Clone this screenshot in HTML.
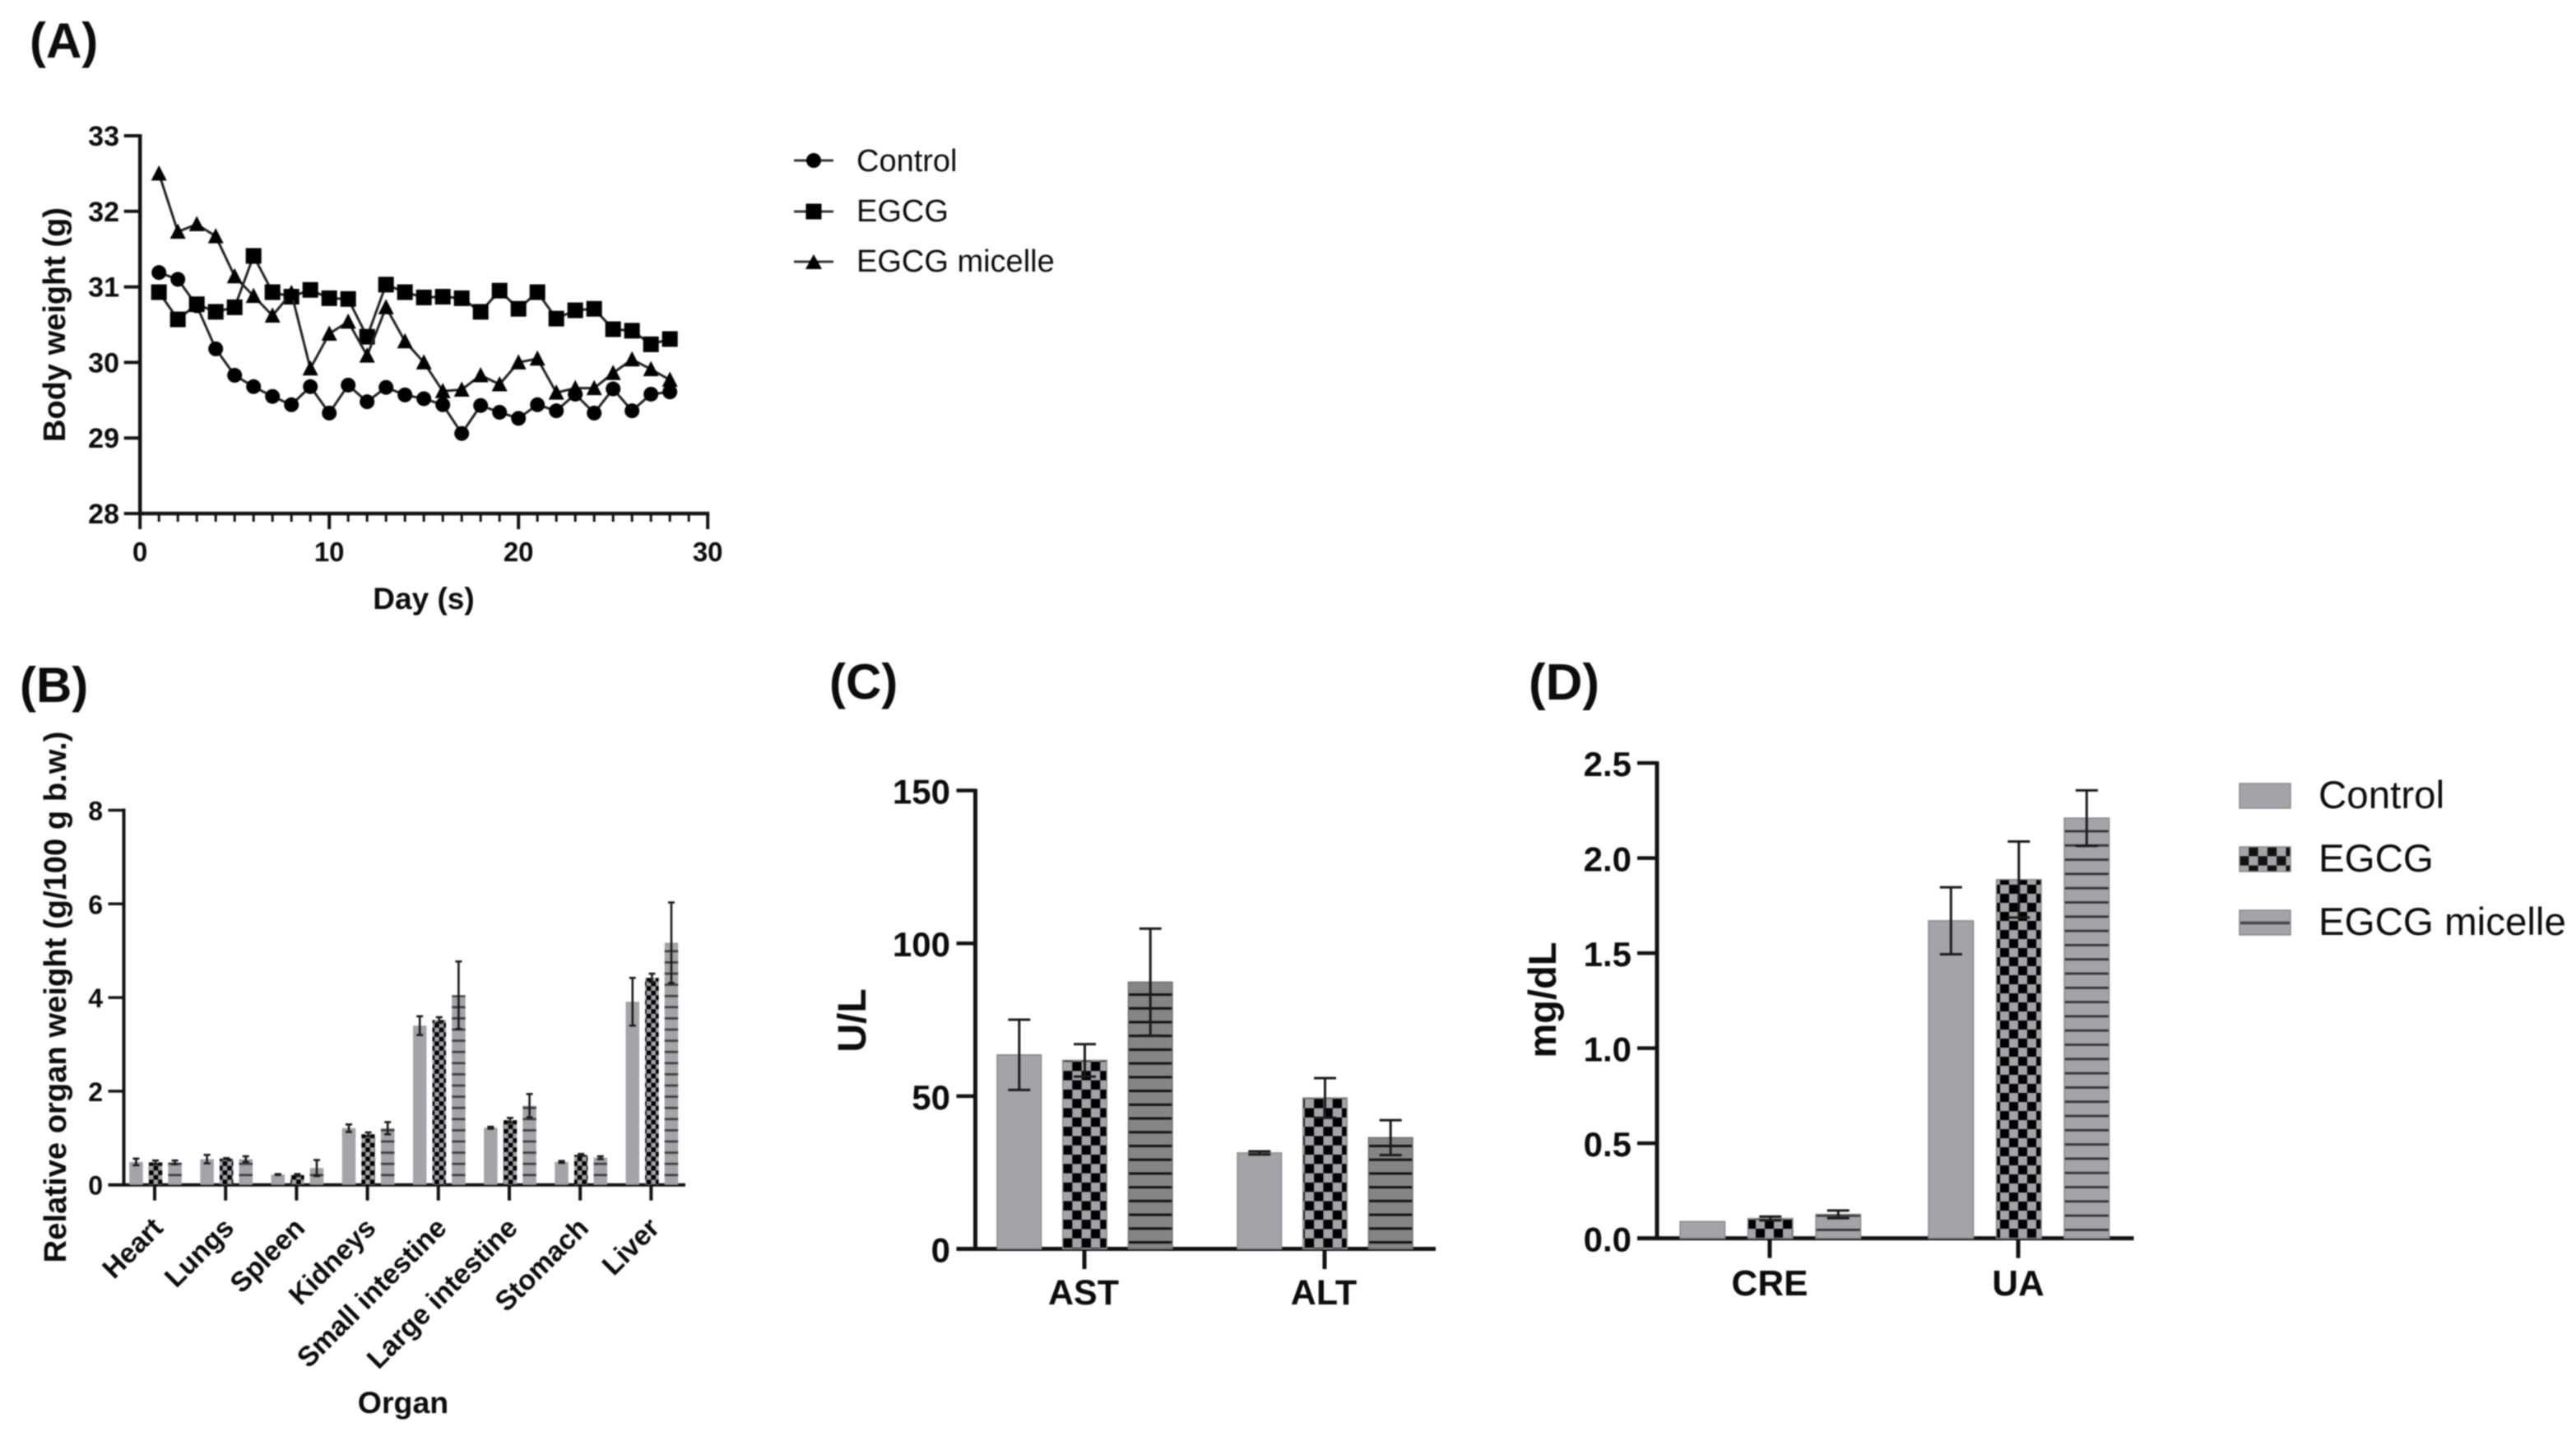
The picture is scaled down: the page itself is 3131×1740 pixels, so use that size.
<!DOCTYPE html>
<html lang="en">
<head>
<meta charset="utf-8">
<title>Body weight, organ weight and serum biochemistry</title>
<style>
html,body{margin:0;padding:0;background:#fff;width:3131px;height:1740px;overflow:hidden}
svg{display:block;filter:blur(0.8px)}
text{font-family:"Liberation Sans",Arial,sans-serif;fill:#0c0c0c}
.b{font-weight:bold}
</style>
</head>
<body>
<svg id="figure" xmlns="http://www.w3.org/2000/svg" width="3131" height="1740" viewBox="0 0 3131 1740">
<defs>
<pattern id="checkB" patternUnits="userSpaceOnUse" x="181" y="1439" width="11.2" height="11.2"><rect width="11.2" height="11.2" fill="#a3a3a8"/><rect x="5.6" width="5.6" height="5.6" fill="#000"/><rect y="5.6" width="5.6" height="5.6" fill="#000"/></pattern>
<pattern id="linesB" patternUnits="userSpaceOnUse" x="0" y="1426.5" width="20" height="13.6"><rect width="20" height="13.6" fill="#a3a3a8"/><rect width="20" height="2.6" fill="#3a3a3a"/></pattern>
<pattern id="checkC" patternUnits="userSpaceOnUse" x="1292" y="1290" width="22.6" height="22.6"><rect width="22.6" height="22.6" fill="#a3a3a8"/><rect x="11.3" width="11.3" height="11.3" fill="#000"/><rect y="11.3" width="11.3" height="11.3" fill="#000"/></pattern>
<pattern id="linesC" patternUnits="userSpaceOnUse" x="0" y="1508" width="20" height="16.72"><rect width="20" height="16.72" fill="#858585"/><rect width="20" height="3" fill="#111"/></pattern>
<pattern id="checkD" patternUnits="userSpaceOnUse" x="2123" y="1493" width="22" height="22"><rect width="22" height="22" fill="#a3a3a8"/><rect x="11" width="11" height="11" fill="#000"/><rect y="11" width="11" height="11" fill="#000"/></pattern>
<pattern id="linesD" patternUnits="userSpaceOnUse" x="0" y="1493" width="20" height="17.3"><rect width="20" height="17.3" fill="#a3a3a8"/><rect width="20" height="2.8" fill="#333"/></pattern>
<pattern id="checkL" patternUnits="userSpaceOnUse" x="2722" y="1029" width="22.6" height="22.6"><rect width="22.6" height="22.6" fill="#a3a3a8"/><rect x="11.3" width="11.3" height="11.3" fill="#111"/><rect y="11.3" width="11.3" height="11.3" fill="#111"/></pattern>
</defs>

<text class="b" x="36" y="70" font-size="60">(A)</text>
<text class="b" x="24" y="853" font-size="60">(B)</text>
<text class="b" x="1008" y="849" font-size="60">(C)</text>
<text class="b" x="1858" y="850" font-size="62">(D)</text>

<text class="b" x="515" y="740" font-size="37" text-anchor="middle">Day (s)</text>
<text class="b" transform="translate(79 394.5) rotate(-90)" font-size="38" text-anchor="middle">Body weight (g)</text>
<text class="b" x="490" y="1717" font-size="37.5" text-anchor="middle">Organ</text>
<text class="b" transform="translate(80 1211.5) rotate(-90)" font-size="38.2" text-anchor="middle">Relative organ weight (g/100 g b.w.)</text>
<text class="b" transform="translate(1052 1240) rotate(-90)" font-size="48" text-anchor="middle">U/L</text>
<text class="b" transform="translate(1891 1215) rotate(-90)" font-size="47" text-anchor="middle">mg/dL</text>

<g>
  <g>
    <line x1="965" x2="1013" y1="195" y2="195" stroke="#333" stroke-width="3"/>
    <circle cx="989" cy="195" r="9" fill="#000"/>
    <text x="1041" y="208" font-size="38">Control</text>
  </g>
  <g>
    <line x1="965" x2="1013" y1="257" y2="257" stroke="#333" stroke-width="3"/>
    <rect x="979.5" y="247.5" width="19" height="19" fill="#000"/>
    <text x="1041" y="269" font-size="38">EGCG</text>
  </g>
  <g>
    <line x1="965" x2="1013" y1="318" y2="318" stroke="#333" stroke-width="3"/>
    <polygon points="989,309 999,327 979,327" fill="#000"/>
    <text x="1041" y="330" font-size="38">EGCG micelle</text>
  </g>
</g>

<g>
  <g>
    <rect x="2722" y="952" width="62" height="30" fill="#a3a3a8" stroke="#8a8a8a" stroke-width="1.5"/>
    <text x="2818" y="982" font-size="47.5">Control</text>
  </g>
  <g>
    <rect x="2722" y="1029" width="62" height="30" fill="url(#checkL)" stroke="#8a8a8a" stroke-width="1.5"/>
    <text x="2818" y="1059" font-size="47.5">EGCG</text>
  </g>
  <g>
    <rect x="2722" y="1106" width="62" height="30" fill="#a3a3a8" stroke="#8a8a8a" stroke-width="1.5"/>
    <line x1="2723" x2="2783" y1="1121.5" y2="1121.5" stroke="#444" stroke-width="3.5"/>
    <text x="2818" y="1136" font-size="47.5">EGCG micelle</text>
  </g>
</g>
</svg>

<script>
/* ---------- Panel A data ---------- */
const days = [1,2,3,4,5,6,7,8,9,10,11,12,13,14,15,16,17,18,19,20,21,22,23,24,25,26,27,28];
const controlWeight = [31.19,31.10,30.75,30.18,29.83,29.68,29.55,29.44,29.68,29.33,29.70,29.48,29.67,29.57,29.52,29.44,29.06,29.43,29.34,29.26,29.44,29.36,29.58,29.33,29.65,29.36,29.58,29.61];
const egcgWeight = [30.93,30.57,30.77,30.67,30.73,31.41,30.93,30.87,30.96,30.85,30.84,30.34,31.03,30.93,30.86,30.87,30.85,30.67,30.95,30.71,30.93,30.58,30.69,30.71,30.44,30.42,30.24,30.31];
const micelleWeight = [32.50,31.73,31.83,31.67,31.14,30.88,30.62,30.92,29.92,30.38,30.54,30.09,30.73,30.28,30.00,29.62,29.64,29.83,29.71,30.00,30.05,29.60,29.66,29.66,29.86,30.04,29.91,29.77];
const weightTicks = [28,29,30,31,32,33];
const dayTicks = [0,10,20,30];

/* ---------- Panel B data ---------- */
const organs = ["Heart","Lungs","Spleen","Kidneys","Small intestine","Large intestine","Stomach","Liver"];
const organControl = [0.49,0.55,0.22,1.21,3.40,1.22,0.49,3.91];
const organControlErr = [0.07,0.09,0.01,0.08,0.20,0.02,0.02,0.51];
const organEgcg = [0.48,0.56,0.21,1.08,3.52,1.38,0.64,4.42];
const organEgcgErr = [0.04,0.01,0.02,0.04,0.06,0.05,0.02,0.09];
const organMicelle = [0.48,0.55,0.36,1.21,4.05,1.69,0.58,5.17];
const organMicelleErr = [0.04,0.06,0.17,0.13,0.72,0.25,0.03,0.86];
const organTicks = [0,2,4,6,8];

/* ---------- Panel C data ---------- */
const liverEnzymes = ["AST","ALT"];
const enzymeControl = [63.5,31.4];
const enzymeControlErr = [11.5,0.5];
const enzymeEgcg = [61.7,49.4];
const enzymeEgcgErr = [5.3,6.5];
const enzymeMicelle = [87.3,36.4];
const enzymeMicelleErr = [17.5,5.7];
const enzymeTicks = [0,50,100,150];

/* ---------- Panel D data ---------- */
const kidneyMarkers = ["CRE","UA"];
const kidneyControl = [0.088,1.67];
const kidneyControlErr = [0,0.176];
const kidneyEgcg = [0.104,1.887];
const kidneyEgcgErr = [0.01,0.2];
const kidneyMicelle = [0.126,2.21];
const kidneyMicelleErr = [0.02,0.146];
const kidneyTicks = ["0.0","0.5","1.0","1.5","2.0","2.5"];

const NS = "http://www.w3.org/2000/svg";
const root = document.getElementById("figure");

function make(tag, attrs, parent) {
  const el = document.createElementNS(NS, tag);
  for (const k in attrs) el.setAttribute(k, attrs[k]);
  (parent || root).appendChild(el);
  return el;
}
function slug(s) { return String(s).toLowerCase().replace(/[^a-z0-9]+/g, "-"); }

/* ---------- Panel A ---------- */
function drawLinePanel() {
  const xDay = d => 170.2 + d * 23;
  const yWeight = v => 624 - (v - 28) * 91.8;
  const g = make("g", {});
  
  

  const yAxis = make("line", {x1:xDay(0), x2:xDay(0), y1:yWeight(33)-2, y2:yWeight(28)+2, stroke:"#111", "stroke-width":4.5}, g);
  
  
  const xAxis = make("line", {x1:xDay(0)-2, x2:xDay(30)+2, y1:yWeight(28), y2:yWeight(28), stroke:"#111", "stroke-width":4.5}, g);
  
  

  weightTicks.forEach(t => {
    const tick = make("line", {x1:xDay(0)-19.5, x2:xDay(0), y1:yWeight(t), y2:yWeight(t), stroke:"#111", "stroke-width":4}, g);
    
    
    const label = make("text", {x:145, y:yWeight(t)+12, "font-size":34, "text-anchor":"end", class:"b"}, g);
    
    
    label.textContent = t;
  });
  for (let d = dayTicks[0]; d <= dayTicks[dayTicks.length-1]; d++) {
    const major = dayTicks.indexOf(d) >= 0;
    const tick = make("line", {x1:xDay(d), x2:xDay(d), y1:yWeight(28), y2:yWeight(28)+(major?19:10), stroke:"#111", "stroke-width":major?4:3}, g);
    
    
  }
  dayTicks.forEach(t => {
    const label = make("text", {x:xDay(t), y:682, "font-size":33, "text-anchor":"middle", class:"b"}, g);
    
    
    label.textContent = t;
  });

  const pts = vals => vals.map((v, i) => xDay(days[i]) + "," + yWeight(v)).join(" ");

  const lineControl = make("polyline", {points:pts(controlWeight), fill:"none", stroke:"#222", "stroke-width":3}, g);
  
  
  controlWeight.forEach((v, i) => {
    const m = make("circle", {cx:xDay(days[i]), cy:yWeight(v), r:9, fill:"#000"}, g);
    
    
  });

  const lineEgcg = make("polyline", {points:pts(egcgWeight), fill:"none", stroke:"#222", "stroke-width":3}, g);
  
  
  egcgWeight.forEach((v, i) => {
    const m = make("rect", {x:xDay(days[i])-9.5, y:yWeight(v)-9.5, width:19, height:19, fill:"#000"}, g);
    
    
  });

  const lineMicelle = make("polyline", {points:pts(micelleWeight), fill:"none", stroke:"#222", "stroke-width":3}, g);
  
  
  micelleWeight.forEach((v, i) => {
    const x = xDay(days[i]), y = yWeight(v);
    const m = make("polygon", {points:`${x},${y-10} ${x+9.5},${y+8.5} ${x-9.5},${y+8.5}`, fill:"#000"}, g);
    
    
  });
}

/* ---------- Panels B, C, D ---------- */
function drawBarPanel(p) {
  const g = make("g", {});
  
  
  const y = v => p.y0 - (v * p.unit);
  const xCat = i => p.x0 + i * p.step;

  const yAxis = make("line", {x1:p.axisX, x2:p.axisX, y1:y(p.yMax)-2, y2:p.y0, stroke:"#111", "stroke-width":p.axisW}, g);
  
  
  const xAxis = make("line", {x1:p.axisX-p.tickY, x2:p.axisEnd, y1:p.y0, y2:p.y0, stroke:"#111", "stroke-width":p.axisW}, g);
  
  

  p.ticks.forEach(t => {
    const v = parseFloat(t);
    const tick = make("line", {x1:p.axisX-p.tickY, x2:p.axisX, y1:y(v), y2:y(v), stroke:"#111", "stroke-width":p.axisW-0.5}, g);
    
    
    const label = make("text", {x:p.labelX, y:y(v)+p.labelDy, "font-size":p.tickFont, "text-anchor":"end", class:"b"}, g);
    
    
    label.textContent = t;
  });

  p.categories.forEach((c, i) => {
    const tick = make("line", {x1:xCat(i), x2:xCat(i), y1:p.y0, y2:p.y0+p.tickX, stroke:"#111", "stroke-width":p.axisW}, g);
    
    
    const label = p.rotate
      ? make("text", {transform:`translate(${xCat(i)+12} 1494) rotate(-45)`, "font-size":p.catFont, "text-anchor":"end", class:"b"}, g)
      : make("text", {x:xCat(i)+p.catDx, y:p.catY, "font-size":p.catFont, "text-anchor":"middle", class:"b"}, g);
    
    
    label.textContent = c;

    p.series.forEach((s, k) => {
      const val = s.values[i], err = s.errors[i];
      const cx = xCat(i) + p.shift + (k - 1) * p.offset;
      const bar = make("rect", {x:cx-p.barW/2, y:y(val), width:p.barW, height:val*p.unit, fill:s.fill, stroke:s.edge, "stroke-width":p.edgeW}, g);
      
      
      if (err <= 0) return;
      const stem = make("line", {x1:cx, x2:cx, y1:y(val+err), y2:y(val-err), stroke:"#1a1a1a", "stroke-width":p.errW}, g);
      
      
      const capTop = make("line", {x1:cx-p.cap, x2:cx+p.cap, y1:y(val+err), y2:y(val+err), stroke:"#1a1a1a", "stroke-width":p.errW}, g);
      
      
      const capBottom = make("line", {x1:cx-p.cap, x2:cx+p.cap, y1:y(val-err), y2:y(val-err), stroke:"#1a1a1a", "stroke-width":p.errW}, g);
      
      
    });
  });
}

drawLinePanel();

drawBarPanel({
  id:"organ-weight", categories:organs, ticks:organTicks, yMax:8,
  y0:1439.7, unit:56.9, x0:188, step:86.2, shift:1, offset:23.6, barW:16.5,
  axisX:150.5, axisEnd:833, axisW:4, tickY:19, tickX:19, labelX:125, labelDy:12, tickFont:32,
  rotate:true, catFont:34, catDx:0, edgeW:0, errW:2.6, cap:4,
  series:[
    {key:"control", values:organControl, errors:organControlErr, fill:"#a3a3a8", edge:"none"},
    {key:"egcg", values:organEgcg, errors:organEgcgErr, fill:"url(#checkB)", edge:"none"},
    {key:"egcg-micelle", values:organMicelle, errors:organMicelleErr, fill:"url(#linesB)", edge:"none"}
  ]
});

drawBarPanel({
  id:"liver-enzymes", categories:liverEnzymes, ticks:enzymeTicks, yMax:150,
  y0:1517.5, unit:3.713, x0:1318, step:292, shift:0.5, offset:79.7, barW:53.5,
  axisX:1185.5, axisEnd:1745, axisW:5, tickY:23, tickX:24.5, labelX:1155, labelDy:16, tickFont:42,
  rotate:false, catFont:43, catDx:-1, catY:1585, edgeW:1.5, errW:3, cap:13.5,
  series:[
    {key:"control", values:enzymeControl, errors:enzymeControlErr, fill:"#a3a3a8", edge:"#8a8a8a"},
    {key:"egcg", values:enzymeEgcg, errors:enzymeEgcgErr, fill:"url(#checkC)", edge:"#8a8a8a"},
    {key:"egcg-micelle", values:enzymeMicelle, errors:enzymeMicelleErr, fill:"url(#linesC)", edge:"#6e6e6e"}
  ]
});

drawBarPanel({
  id:"kidney-markers", categories:kidneyMarkers, ticks:kidneyTicks, yMax:2.5,
  y0:1504.6, unit:231, x0:2151, step:302, shift:0.8, offset:82.5, barW:54.5,
  axisX:2014, axisEnd:2593.5, axisW:5, tickY:24, tickX:24, labelX:1983, labelDy:16, tickFont:42,
  rotate:false, catFont:44, catDx:0, catY:1574, edgeW:1.5, errW:3, cap:13.5,
  series:[
    {key:"control", values:kidneyControl, errors:kidneyControlErr, fill:"#a3a3a8", edge:"#8a8a8a"},
    {key:"egcg", values:kidneyEgcg, errors:kidneyEgcgErr, fill:"url(#checkD)", edge:"#8a8a8a"},
    {key:"egcg-micelle", values:kidneyMicelle, errors:kidneyMicelleErr, fill:"url(#linesD)", edge:"#8a8a8a"}
  ]
});
</script>
</body>
</html>
